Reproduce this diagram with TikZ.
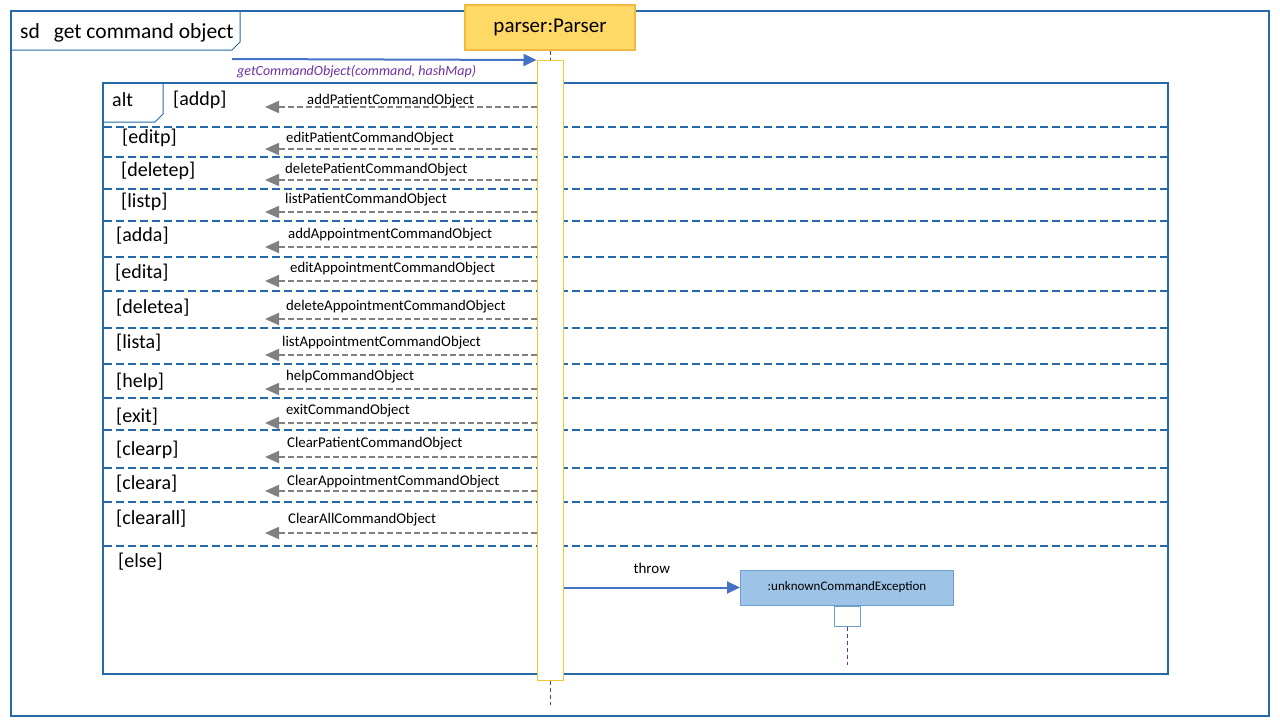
\documentclass[tikz,border=0pt]{standalone}
\usepackage{fontspec}
\setmainfont{Carlito}
\usepackage{tikz}
\usetikzlibrary{arrows.meta,positioning}
\usepackage{xcolor}
\definecolor{sdblue}{RGB}{36,106,166}
\definecolor{msgblue}{RGB}{68,114,196}
\definecolor{sdpurple}{RGB}{112,48,160}
\definecolor{sdgray}{RGB}{128,128,128}
\definecolor{sdgold}{RGB}{255,217,102}
\definecolor{sdorange}{RGB}{244,185,66}
\definecolor{sdyellow}{RGB}{240,200,50}
\definecolor{sdlightblue}{RGB}{157,195,230}
\definecolor{sdmidblue}{RGB}{110,158,204}
\tikzstyle{sdframe} = [rectangle, draw=sdblue, line width=2pt, anchor=north west]
\tikzstyle{guard} = [anchor=west, inner sep=0pt, yshift=-1pt, font=\fontsize{20}{24}\selectfont]
\tikzstyle{msg} = [anchor=west, inner sep=0pt, yshift=-1.5pt, font=\fontsize{14.8}{17}\selectfont]
\tikzstyle{divider} = [sdblue, line width=2pt, dash pattern=on 8pt off 4pt]
\tikzstyle{reply} = [sdgray, line width=2pt, dash pattern=on 6pt off 3pt, -{Triangle[length=14pt,width=12pt]}]
\tikzstyle{call} = [msgblue, line width=2pt, -{Triangle[length=13pt,width=12pt]}]
\tikzstyle{lifeline} = [sdpurple, line width=0.8pt, dash pattern=on 4pt off 3pt]

\begin{document}
\begin{tikzpicture}[x=1pt, y=-1pt]
\useasboundingbox (0,0) rectangle (1280,720);

% Outer sd frame
\node (sd) [sdframe, minimum width=1258pt, minimum height=705pt] at (10,10) {};
\draw[sdblue, line width=1pt] (10,50) -- (232,50) -- (240,42) -- (240,10);
\node (sdtitle) [guard, font=\fontsize{21.5}{25}\selectfont] at (20,32) {sd\hspace{14pt}get command object};

% Parser lifeline
\node (parser) [draw=sdorange, fill=sdgold, line width=1.5pt, minimum width=170pt, minimum height=45pt, font=\fontsize{21}{25}\selectfont] at (550,27.5) {parser:Parser};
\coordinate (parserend) at (550,705);
\draw[lifeline] (parser.south) -- (parserend);

% Alt fragment
\node (alt) [sdframe, minimum width=1065pt, minimum height=591pt] at (102,82) {};
\draw[sdblue, line width=1pt] (102,122) -- (155,122) -- (163,114) -- (163,82);
\node (alttext) [guard] at (112,99) {alt};

% Dividers
\coordinate (d1) at (104,127);  \draw[divider] (d1) -- (d1 -| alt.east);
\coordinate (d2) at (104,157);  \draw[divider] (d2) -- (d2 -| alt.east);
\coordinate (d3) at (104,189);  \draw[divider] (d3) -- (d3 -| alt.east);
\coordinate (d4) at (104,221);  \draw[divider] (d4) -- (d4 -| alt.east);
\coordinate (d5) at (104,257);  \draw[divider] (d5) -- (d5 -| alt.east);
\coordinate (d6) at (104,291);  \draw[divider] (d6) -- (d6 -| alt.east);
\coordinate (d7) at (104,328);  \draw[divider] (d7) -- (d7 -| alt.east);
\coordinate (d8) at (104,364);  \draw[divider] (d8) -- (d8 -| alt.east);
\coordinate (d9) at (104,398);  \draw[divider] (d9) -- (d9 -| alt.east);
\coordinate (d10) at (104,430); \draw[divider] (d10) -- (d10 -| alt.east);
\coordinate (d11) at (104,468); \draw[divider] (d11) -- (d11 -| alt.east);
\coordinate (d12) at (104,502); \draw[divider] (d12) -- (d12 -| alt.east);
\coordinate (d13) at (104,546); \draw[divider] (d13) -- (d13 -| alt.east);

% Activation
\node (act) [draw=sdyellow, fill=white, line width=1pt, minimum width=26pt, minimum height=620pt, inner sep=0pt, anchor=north] at (550,60) {};

% Call
\coordinate (caller) at (232,59);
\draw[call] (caller) -- (act.north west);
\node (calllabel) [msg, font=\fontsize{14}{17}\selectfont\itshape, text=sdpurple] at (237,70) {getCommandObject(command, hashMap)};

% Guards
\node (g1) [guard] at (173,99) {[addp]};
\node (g2) [guard] at (122,137) {[editp]};
\node (g3) [guard] at (121,170) {[deletep]};
\node (g4) [guard] at (121,201) {[listp]};
\node (g5) [guard] at (116,235) {[adda]};
\node (g6) [guard] at (115,272) {[edita]};
\node (g7) [guard] at (116,307) {[deletea]};
\node (g8) [guard] at (116,342) {[lista]};
\node (g9) [guard] at (116,381) {[help]};
\node (g10) [guard] at (116,416) {[exit]};
\node (g11) [guard] at (116,449) {[clearp]};
\node (g12) [guard] at (116,483) {[cleara]};
\node (g13) [guard] at (116,518) {[clearall]};
\node (g14) [guard] at (118,561) {[else]};

% Replies
\coordinate (r1) at (265,107);  \draw[reply] (act.west |- r1) -- (r1);
\coordinate (r2) at (265,149);  \draw[reply] (act.west |- r2) -- (r2);
\coordinate (r3) at (265,180);  \draw[reply] (act.west |- r3) -- (r3);
\coordinate (r4) at (265,212);  \draw[reply] (act.west |- r4) -- (r4);
\coordinate (r5) at (265,247);  \draw[reply] (act.west |- r5) -- (r5);
\coordinate (r6) at (265,281);  \draw[reply] (act.west |- r6) -- (r6);
\coordinate (r7) at (265,319);  \draw[reply] (act.west |- r7) -- (r7);
\coordinate (r8) at (265,355);  \draw[reply] (act.west |- r8) -- (r8);
\coordinate (r9) at (265,389);  \draw[reply] (act.west |- r9) -- (r9);
\coordinate (r10) at (265,423); \draw[reply] (act.west |- r10) -- (r10);
\coordinate (r11) at (265,457); \draw[reply] (act.west |- r11) -- (r11);
\coordinate (r12) at (265,491); \draw[reply] (act.west |- r12) -- (r12);
\coordinate (r13) at (265,533); \draw[reply] (act.west |- r13) -- (r13);

\node (m1) [msg] at (307,99) {addPatientCommandObject};
\node (m2) [msg] at (286,137) {editPatientCommandObject};
\node (m3) [msg] at (285,168) {deletePatientCommandObject};
\node (m4) [msg] at (285,198) {listPatientCommandObject};
\node (m5) [msg] at (288,233) {addAppointmentCommandObject};
\node (m6) [msg] at (290,267) {editAppointmentCommandObject};
\node (m7) [msg] at (286,305) {deleteAppointmentCommandObject};
\node (m8) [msg] at (282,341) {listAppointmentCommandObject};
\node (m9) [msg] at (286,375) {helpCommandObject};
\node (m10) [msg] at (286,409) {exitCommandObject};
\node (m11) [msg] at (287,442) {ClearPatientCommandObject};
\node (m12) [msg] at (287,480) {ClearAppointmentCommandObject};
\node (m13) [msg] at (288,518) {ClearAllCommandObject};

% Exception
\node (exc) [draw=sdmidblue, fill=sdlightblue, line width=1pt, minimum width=213pt, minimum height=35pt, anchor=west, font=\fontsize{13}{15}\selectfont] at (740,587.5) {:unknownCommandException};
\draw[call] (act.east |- exc.west) -- node[above, yshift=10pt, text=black, font=\fontsize{15}{18}\selectfont] {throw} (exc.west);
\node (excact) [draw=sdmidblue, fill=white, line width=1pt, minimum width=26pt, minimum height=20pt, inner sep=0pt, anchor=north] at (exc.south) {};
\coordinate (excend) at (848,665);
\draw[lifeline] (excact.south) -- (excact.south |- excend);

\end{tikzpicture}
\end{document}
